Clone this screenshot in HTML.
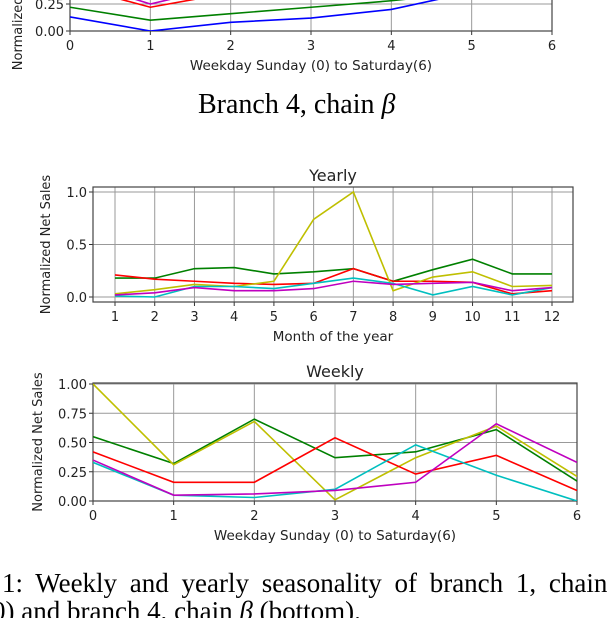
<!DOCTYPE html>
<html><head><meta charset="utf-8"><style>
body{margin:0;width:610px;height:618px;overflow:hidden;background:#fff;position:relative}
svg{position:absolute;left:0;top:0}
.clip{position:absolute;left:0;top:0;width:610px;height:618px;overflow:hidden}
.cap{position:absolute;font-family:"Liberation Serif",serif;font-size:27px;line-height:30px;color:#000;white-space:nowrap}
</style></head><body>
<svg id="chart" width="610" height="618"></svg>
<div class="clip">
<div class="cap" style="left:198px;top:90px;font-size:28px">Branch 4, chain <i>β</i></div>
<div class="cap" style="left:2px;top:568px;word-spacing:6px">1: Weekly and yearly seasonality of branch 1, chain</div>
<div class="cap" style="left:-8px;top:596px">0) and branch 4, chain <i>β</i> (bottom).</div>
</div>
<script>
const months=[1,2,3,4,5,6,7,8,9,10,11,12];
const yGreen=[0.18,0.18,0.27,0.28,0.22,0.24,0.27,0.15,0.26,0.36,0.22,0.22];
const yRed=[0.21,0.17,0.15,0.13,0.12,0.13,0.27,0.15,0.15,0.14,0.03,0.06];
const yYellow=[0.03,0.07,0.12,0.10,0.15,0.74,1.0,0.06,0.19,0.24,0.10,0.11];
const yCyan=[0.01,0.0,0.10,0.10,0.08,0.13,0.18,0.13,0.02,0.10,0.02,0.09];
const yMagenta=[0.02,0.04,0.09,0.06,0.06,0.08,0.15,0.12,0.13,0.14,0.06,0.09];
const days=[0,1,2,3,4,5,6];
const wGreen=[0.55,0.32,0.70,0.37,0.42,0.61,0.17];
const wYellow=[1.0,0.31,0.68,0.01,0.37,0.64,0.21];
const wRed=[0.42,0.16,0.16,0.54,0.23,0.39,0.09];
const wCyan=[0.33,0.05,0.03,0.10,0.48,0.22,0.0];
const wMagenta=[0.35,0.05,0.06,0.09,0.16,0.66,0.33];
const tDays=[0,1,2,3,4,5];
const tBlue=[0.13,0.0,0.08,0.12,0.2,0.36];
const tGreen=[0.22,0.1,0.16,0.22,0.28,0.36];
const tRed=[0.3,0.22,0.3];
const tMagenta=[0.32,0.25,0.32];
const yearTicks=["0.0","0.5","1.0"];const yearTickVals=[0,0.5,1];
const weekTickVals=[0,0.25,0.5,0.75,1];const weekTicks=["0.00","0.25","0.50","0.75","1.00"];
const C={g:"#008000",r:"#ff0000",y:"#bfbf00",c:"#00bfbf",m:"#bf00bf",b:"#0000ff"};
const NS="http://www.w3.org/2000/svg";
const svg=document.getElementById('chart');
function el(t,a,p){const e=document.createElementNS(NS,t);for(const k in a)e.setAttribute(k,a[k]);(p||svg).appendChild(e);return e;}
function txt(s,a,p){const e=el('text',Object.assign({'font-family':'DejaVu Sans, Liberation Sans, sans-serif','font-size':13,fill:'#222'},a),p);e.textContent=s;return e;}
function axes(o){
  const g=el('g',{});
  const sx=v=>o.x0+(v-o.xmin)/(o.xmax-o.xmin)*(o.x1-o.x0);
  const sy=v=>o.y0-(v-o.ymin)/(o.ymax-o.ymin)*(o.y0-o.y1);
  const cid='c'+o.name;const cp=el('clipPath',{id:cid},g);el('rect',{x:o.L,y:o.T,width:o.R-o.L,height:o.B-o.T},cp);
  o.xt.forEach((v,i)=>{el('line',{x1:sx(v),x2:sx(v),y1:o.T,y2:o.B,stroke:'#999','stroke-width':1},g);
    el('line',{x1:sx(v),x2:sx(v),y1:o.B,y2:o.B+4,stroke:'#333'},g);
    const t=txt(o.xl[i],{x:sx(v),y:o.B+19,'text-anchor':'middle'},g);});
  o.yt.forEach((v,i)=>{el('line',{x1:o.L,x2:o.R,y1:sy(v),y2:sy(v),stroke:'#999'},g);
    el('line',{x1:o.L-4,x2:o.L,y1:sy(v),y2:sy(v),stroke:'#333'},g);
    if(o.yl){const t=txt(o.yl[i],{x:o.L-6,y:sy(v)+5,'text-anchor':'end'},g);}});
  el('rect',{x:o.L,y:o.T,width:o.R-o.L,height:o.B-o.T,fill:'none',stroke:'#444','stroke-width':1.2},g);
  const lg=el('g',{'clip-path':`url(#${cid})`},g);
  o.series.forEach(s=>{const p=el('polyline',{points:s.xs.map((x,i)=>sx(x)+','+sy(s.ys[i])).join(' '),fill:'none',stroke:s.c,'stroke-width':1.6},lg);
    });
  if(o.title){const t=txt(o.title,{x:(o.L+o.R)/2,y:o.T-6,'text-anchor':'middle','font-size':16},g);}
  const xt=txt(o.xlabel,{x:(o.L+o.R)/2,y:o.B+39,'text-anchor':'middle','font-size':13.5},g);
  const yy=(o.T+o.B)/2;const yt=txt(o.ylabel,{x:o.yx,y:yy,'text-anchor':'middle',transform:`rotate(-90 ${o.yx} ${yy})`},g);
}
axes({name:'top-weekly-chart',L:70,R:552,T:-30,B:31,x0:70,x1:552,xmin:0,xmax:6,y0:31,y1:4,ymin:0,ymax:0.25,
 xt:[0,1,2,3,4,5,6],xl:["0","1","2","3","4","5","6"],yt:[0,0.25],yl:["0.00","0.25"],
 xlabel:"Weekday Sunday (0) to Saturday(6)",ylabel:"Normalized Net Sales",yx:22,
 series:[{n:'line-blue',c:C.b,xs:tDays,ys:tBlue},{n:'line-green',c:C.g,xs:tDays,ys:tGreen},
 {n:'line-red',c:C.r,xs:[0.6,1,1.6],ys:tRed},{n:'line-magenta',c:C.m,xs:[0.7,1,1.4],ys:tMagenta}]});
axes({name:'yearly-chart',L:93,R:573,T:187,B:302,x0:115,x1:552,xmin:1,xmax:12,y0:297,y1:192,ymin:0,ymax:1,
 xt:months,xl:months.map(String),yt:yearTickVals,yl:yearTicks,title:"Yearly",
 xlabel:"Month of the year",ylabel:"Normalized Net Sales",yx:50,
 series:[{n:'line-green',c:C.g,xs:months,ys:yGreen},{n:'line-red',c:C.r,xs:months,ys:yRed},{n:'line-yellow',c:C.y,xs:months,ys:yYellow},{n:'line-cyan',c:C.c,xs:months,ys:yCyan},{n:'line-magenta',c:C.m,xs:months,ys:yMagenta}]});
axes({name:'weekly-chart',L:93,R:577,T:383,B:501,x0:93,x1:577,xmin:0,xmax:6,y0:501,y1:384,ymin:0,ymax:1,
 xt:days,xl:days.map(String),yt:weekTickVals,yl:weekTicks,title:"Weekly",
 xlabel:"Weekday Sunday (0) to Saturday(6)",ylabel:"Normalized Net Sales",yx:42,
 series:[{n:'line-green',c:C.g,xs:days,ys:wGreen},{n:'line-yellow',c:C.y,xs:days,ys:wYellow},{n:'line-red',c:C.r,xs:days,ys:wRed},{n:'line-cyan',c:C.c,xs:days,ys:wCyan},{n:'line-magenta',c:C.m,xs:days,ys:wMagenta}]});
</script>
</body></html>
